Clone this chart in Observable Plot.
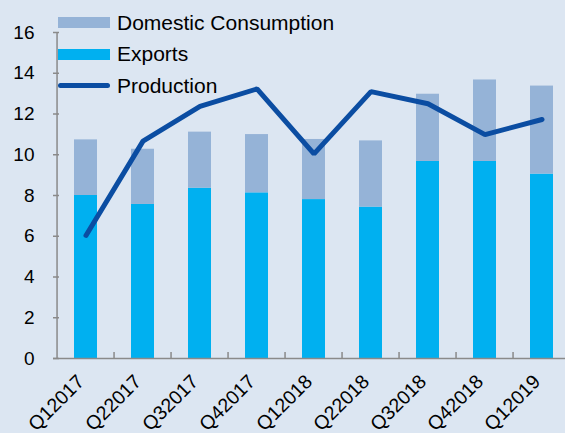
<!DOCTYPE html>
<html><head><meta charset="utf-8">
<script src="https://cdn.jsdelivr.net/npm/d3@7"></script>
<script src="https://cdn.jsdelivr.net/npm/@observablehq/plot@0.6"></script>
<style>
html,body{margin:0;padding:0;background:#dce6f2;}
#wrap{position:relative;width:565px;height:433px;overflow:hidden;font-family:"Liberation Sans",Arial,sans-serif;}
#legend{position:absolute;left:58px;top:7px;}
.item{display:flex;align-items:center;height:31.5px;font-size:21px;color:#000;}
.sw{width:52px;height:11px;margin-right:7px;}
.ln{width:52px;height:5px;border-radius:3px;margin-right:7px;}
</style></head><body><div id="wrap"><div id="legend"></div></div>
<script>
const quarters = ["Q12017","Q22017","Q32017","Q42017","Q12018","Q22018","Q32018","Q42018","Q12019"];
const exportsVals = [8.0, 7.56, 8.36, 8.13, 7.8, 7.43, 9.67, 9.67, 9.05];
const domesticVals = [2.73, 2.71, 2.75, 2.86, 2.95, 3.25, 3.3, 4.0, 4.32];
const productionVals = [6.04, 10.67, 12.37, 13.23, 10.04, 13.1, 12.5, 10.99, 11.73];
const yTicks = [0, 2, 4, 6, 8, 10, 12, 14, 16];
const seriesNames = ["Domestic Consumption", "Exports", "Production"];
const seriesColors = ["#95b3d7", "#00b0f0", "#0b4da2"];

const axisColor = "#8a8a8a";
const xRange = [53, 574];
const step = (xRange[1] - xRange[0]) / quarters.length;

const stacked = quarters.flatMap((q, i) => [
  {q, series: "Exports", value: exportsVals[i]},
  {q, series: "Domestic Consumption", value: domesticVals[i]}
]);
const prod = quarters.map((q, i) => ({q, value: productionVals[i]}));

const chart = Plot.plot({
  width: 565, height: 433,
  marginLeft: 53, marginRight: 0, marginTop: 32, marginBottom: 75,
  style: {background: "transparent", fontFamily: "'Liberation Sans', Arial, sans-serif", color: "#000"},
  x: {domain: quarters, range: xRange, paddingInner: 0.6, paddingOuter: 0.3, axis: null, label: null},
  y: {domain: [0, 16], axis: null, label: null},
  color: {domain: seriesNames.slice(0, 2), range: seriesColors.slice(0, 2)},
  marks: [
    Plot.barY(stacked, {x: "q", y: "value", fill: "series", order: ["Exports", "Domestic Consumption"]}),
    Plot.lineY(prod, {x: "q", y: "value", stroke: seriesColors[2], strokeWidth: 5, strokeLinecap: "round", strokeLinejoin: "miter"}),
    Plot.ruleY([0], {stroke: axisColor, strokeWidth: 1.5}),
    Plot.ruleX([quarters[0]], {y1: 0, y2: 16, dx: -step / 2, stroke: axisColor, strokeWidth: 1.5}),
    Plot.axisY(yTicks, {tickSize: 6, dx: 6, fill: "none", stroke: axisColor, strokeWidth: 1.5, label: null}),
    Plot.axisY(yTicks, {tickSize: 0, tickPadding: 19, fontSize: 19, fill: "#000", label: null}),
    Plot.axisX(quarters.slice(1), {tickSize: 6, dx: -step / 2, dy: -6, fill: "none", stroke: axisColor, strokeWidth: 1.5, label: null}),
    Plot.axisX(quarters, {tickSize: 0, tickRotate: -45, tickPadding: 20, dx: -5, fontSize: 19.5, fill: "#000", label: null})
  ]
});
document.getElementById("wrap").appendChild(chart);
chart.style.position = "absolute";
chart.style.left = "0";
chart.style.top = "0";

const legend = document.getElementById("legend");
seriesNames.forEach((name, i) => {
  const item = document.createElement("div");
  item.className = "item";
  const sw = document.createElement("div");
  sw.className = i < 2 ? "sw" : "ln";
  sw.style.background = seriesColors[i];
  const t = document.createElement("span");
  t.textContent = name;
  item.appendChild(sw);
  item.appendChild(t);
  legend.appendChild(item);
});
</script>
</body></html>
